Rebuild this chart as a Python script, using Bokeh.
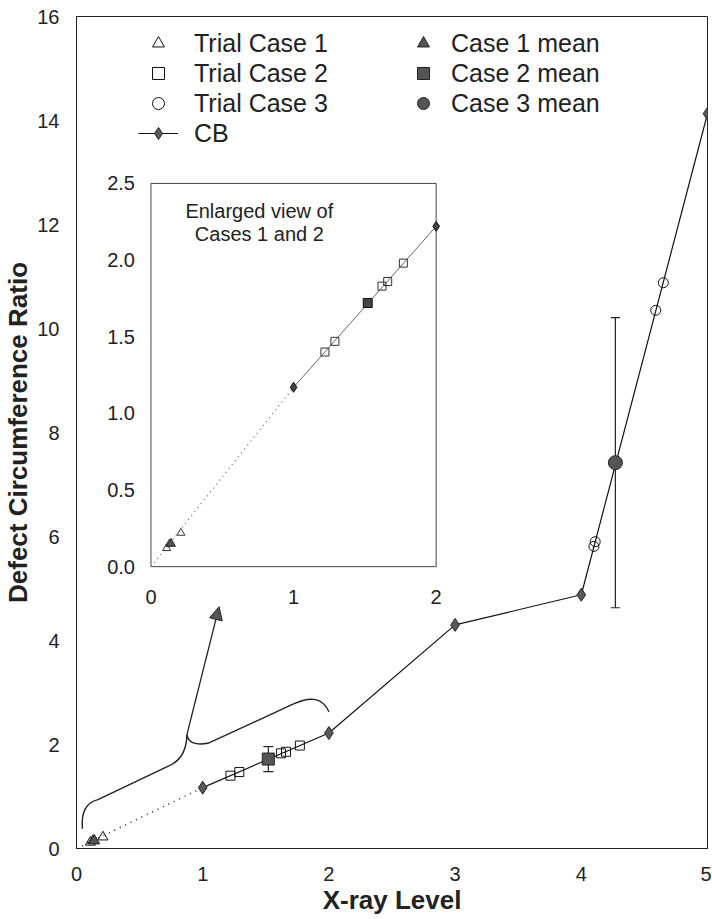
import numpy as np
from bokeh.plotting import figure
from bokeh.models import (Range1d, FixedTicker, Legend, LegendItem, Whisker, TeeHead,
                          ColumnDataSource, Arrow, NormalHead)
from bokeh.core.properties import value
from bokeh.embed import file_html
from bokeh.resources import INLINE

FONT = "Liberation Sans"

# ---------------- data ----------------
cb_x = [1, 2, 3, 4, 5]
cb_y = [1.17, 2.22, 4.30, 4.88, 14.13]
origin_x = [0.0]
origin_y = [0.0]

trial1_x = [0.11, 0.13, 0.21]
trial1_y = [0.12, 0.15, 0.22]
mean1_x = [0.14]
mean1_y = [0.15]
err1 = [0.045]

trial2_x = [1.22, 1.29, 1.62, 1.66, 1.77]
trial2_y = [1.40, 1.47, 1.83, 1.86, 1.98]
mean2_x = [1.52]
mean2_y = [1.72]
err2 = [0.24]

trial3_x = [4.10, 4.11, 4.59, 4.65]
trial3_y = [5.81, 5.90, 10.35, 10.88]
mean3_x = [4.27]
mean3_y = [7.42]
err3 = [2.79]

x_ticks = [0, 1, 2, 3, 4, 5]
y_ticks = [0, 2, 4, 6, 8, 10, 12, 14, 16]
inset_x_ticks = [0, 1, 2]
inset_x_labels = ["0", "1", "2"]
inset_y_ticks = [0.0, 0.5, 1.0, 1.5, 2.0, 2.5]
inset_y_labels = ["0.0", "0.5", "1.0", "1.5", "2.0", "2.5"]
inset_title = ["Enlarged view of", "Cases 1 and 2"]

# annotation geometry (main data units)
brace_curves = dict(x0=[0.047, 0.74, 0.875, 1.72], y0=[0.38, 1.60, 2.19, 2.78],
                    x1=[0.17, 0.875, 1.05, 2.00], y1=[0.94, 2.19, 2.03, 2.63],
                    cx=[0.03, 0.87, 0.89, 1.93], cy=[0.86, 1.74, 1.95, 3.02])
brace_lines = dict(x0=[0.17, 1.05], y0=[0.94, 2.03], x1=[0.74, 1.72], y1=[1.60, 2.78])
arrow_start = (0.875, 2.19)
arrow_end = (1.13, 4.65)

# inset frame, in main data units
IX0, IX1, IY0, IY1 = 0.59, 2.85, 5.42, 12.79
IX_SPAN, IY_SPAN = 2.0, 2.5

# ---------------- figure ----------------
W, H = 711, 917
p = figure(width=W, height=H, x_range=Range1d(0, 5), y_range=Range1d(0, 16),
           output_backend="svg", toolbar_location=None,
           min_border_left=73, min_border_right=4, min_border_top=16, min_border_bottom=68)
p.background_fill_color = "white"
p.border_fill_color = "white"
p.grid.visible = False
p.outline_line_color = "#222"
p.outline_line_width = 1

p.xaxis.ticker = FixedTicker(ticks=x_ticks)
p.yaxis.ticker = FixedTicker(ticks=y_ticks)
for ax in (p.xaxis[0], p.yaxis[0]):
    ax.major_tick_out = 0
    ax.major_tick_in = 0
    ax.minor_tick_out = 0
    ax.minor_tick_in = 0
    ax.axis_line_color = "#222"
    ax.major_label_text_font = FONT
    ax.major_label_text_font_size = "20px"
    ax.major_label_text_color = "#222"
    ax.axis_label_text_font = FONT
    ax.axis_label_text_font_style = "bold"
    ax.axis_label_text_color = "#222"
p.xaxis.major_label_standoff = 18
p.xaxis.axis_label_standoff = 1
p.yaxis.major_label_standoff = 17
p.yaxis.axis_label_standoff = 1
p.xaxis.axis_label = "X-ray Level"
p.xaxis.axis_label_text_font_size = "26px"
p.yaxis.axis_label = "Defect Circumference Ratio"
p.yaxis.axis_label_text_font_size = "26px"

# inset extra ranges
sxf = IX_SPAN / (IX1 - IX0)
syf = IY_SPAN / (IY1 - IY0)
p.extra_x_ranges = {"ix": Range1d(-IX0 * sxf, (5 - IX0) * sxf)}
p.extra_y_ranges = {"iy": Range1d(-IY0 * syf, (16 - IY0) * syf)}
IN = dict(x_range_name="ix", y_range_name="iy")

# inset box
p.quad(left=[IX0], right=[IX1], bottom=[IY0], top=[IY1], fill_color="white",
       line_color="#444", line_width=1)

# ---------------- main plot ----------------
# brace + arrow
p.quadratic(x0="x0", y0="y0", x1="x1", y1="y1", cx="cx", cy="cy",
            source=ColumnDataSource(brace_curves), line_color="#222", line_width=1.4)
p.segment(x0="x0", y0="y0", x1="x1", y1="y1", source=ColumnDataSource(brace_lines),
          line_color="#222", line_width=1.4)
p.add_layout(Arrow(end=NormalHead(size=13, fill_color="#555", line_color="#222", line_width=1),
                   x_start=arrow_start[0], y_start=arrow_start[1],
                   x_end=arrow_end[0], y_end=arrow_end[1], line_color="#222", line_width=1.3))

# CB lines
p.line(x=origin_x + cb_x[:1], y=origin_y + cb_y[:1], line_color="#333", line_width=1.6,
       line_dash="1 5")
r_cb_line = p.line(x=cb_x, y=cb_y, line_color="#111", line_width=1.2)

# error bars
def whisk(xs, ys, es, size, **kw):
    src = ColumnDataSource(dict(x=xs, upper=[y + e for y, e in zip(ys, es)],
                                lower=[y - e for y, e in zip(ys, es)]))
    w = Whisker(source=src, base="x", upper="upper", lower="lower", dimension="height",
                line_color="#222", line_width=1.2,
                upper_head=TeeHead(size=size, line_color="#222", line_width=1.2),
                lower_head=TeeHead(size=size, line_color="#222", line_width=1.2),
                level="underlay", **kw)
    p.add_layout(w)

whisk(mean1_x, mean1_y, err1, 6)
whisk(mean2_x, mean2_y, err2, 10)
whisk(mean3_x, mean3_y, err3, 9)

r_cb_pts = p.scatter(x=cb_x, y=cb_y, marker="diamond", size=13, fill_color="#5a5a5a",
                     line_color="#222", line_width=1)
r_t1 = p.scatter(x=trial1_x, y=trial1_y, marker="triangle", size=10, fill_color=None,
                 line_color="#111", line_width=1)
r_t2 = p.scatter(x=trial2_x, y=trial2_y, marker="square", size=9, fill_color=None,
                 line_color="#111", line_width=1)
r_t3 = p.scatter(x=trial3_x, y=trial3_y, marker="circle", size=10, fill_color=None,
                 line_color="#111", line_width=1)
r_m1 = p.scatter(x=mean1_x, y=mean1_y, marker="triangle", size=11, fill_color="#555",
                 line_color="#222", line_width=1)
r_m2 = p.scatter(x=mean2_x, y=mean2_y, marker="square", size=12, fill_color="#555",
                 line_color="#222", line_width=1)
r_m3 = p.scatter(x=mean3_x, y=mean3_y, marker="circle", size=14, fill_color="#555",
                 line_color="#222", line_width=1)

# ---------------- inset contents ----------------
in_cb_x = [x for x in cb_x if x <= inset_x_ticks[-1]]
in_cb_y = cb_y[:len(in_cb_x)]
p.line(x=origin_x + in_cb_x[:1], y=origin_y + in_cb_y[:1], line_color="#777",
       line_width=1.4, line_dash="1 4", **IN)
p.line(x=in_cb_x, y=in_cb_y, line_color="#666", line_width=1, **IN)
whisk(mean1_x, mean1_y, err1, 6, **IN)
whisk(mean2_x, mean2_y, err2, 7, **IN)
p.scatter(x=in_cb_x, y=in_cb_y, marker="diamond", size=10, fill_color="#444",
          line_color="#111", line_width=1, **IN)
p.scatter(x=trial1_x, y=trial1_y, marker="triangle", size=8, fill_color=None,
          line_color="#333", line_width=1, **IN)
p.scatter(x=trial2_x, y=trial2_y, marker="square", size=8, fill_color=None,
          line_color="#333", line_width=1, **IN)
p.scatter(x=mean1_x, y=mean1_y, marker="triangle", size=9, fill_color="#555",
          line_color="#222", line_width=1, **IN)
p.scatter(x=mean2_x, y=mean2_y, marker="square", size=9, fill_color="#444",
          line_color="#111", line_width=1, **IN)

# inset tick labels and title
p.text(x=inset_x_ticks, y=[-0.196] * len(inset_x_ticks), text=inset_x_labels,
       text_font=value(FONT), text_font_size="20px", text_color="#222",
       text_align="center", text_baseline="middle", **IN)
p.text(x=[-0.112] * len(inset_y_ticks), y=inset_y_ticks, text=inset_y_labels,
       text_font=value(FONT), text_font_size="20px", text_color="#222",
       text_align="right", text_baseline="middle", **IN)
p.text(x=[0.76, 0.76], y=[2.32, 2.17], text=inset_title,
       text_font=value(FONT), text_font_size="20px", text_color="#222",
       text_align="center", text_baseline="middle", **IN)

# ---------------- legends ----------------
FRAME_H = H - 16 - 68
common = dict(label_text_font=FONT, label_text_font_size="25px", label_text_color="#222",
              glyph_height=30, label_height=30, spacing=0, padding=0, margin=0,
              border_line_color=None, background_fill_alpha=0)
leg1 = Legend(items=[LegendItem(label="Trial Case 1", renderers=[r_t1]),
                     LegendItem(label="Trial Case 2", renderers=[r_t2]),
                     LegendItem(label="Trial Case 3", renderers=[r_t3]),
                     LegendItem(label="CB", renderers=[r_cb_line, r_cb_pts])],
              location=(62, FRAME_H - 13 - 120), glyph_width=40, label_standoff=16, **common)
leg2 = Legend(items=[LegendItem(label="Case 1 mean", renderers=[r_m1]),
                     LegendItem(label="Case 2 mean", renderers=[r_m2]),
                     LegendItem(label="Case 3 mean", renderers=[r_m3])],
              location=(332, FRAME_H - 13 - 90), glyph_width=30, label_standoff=13, **common)
p.add_layout(leg1)
p.add_layout(leg2)

open("out.html", "w").write(file_html(p, INLINE))
